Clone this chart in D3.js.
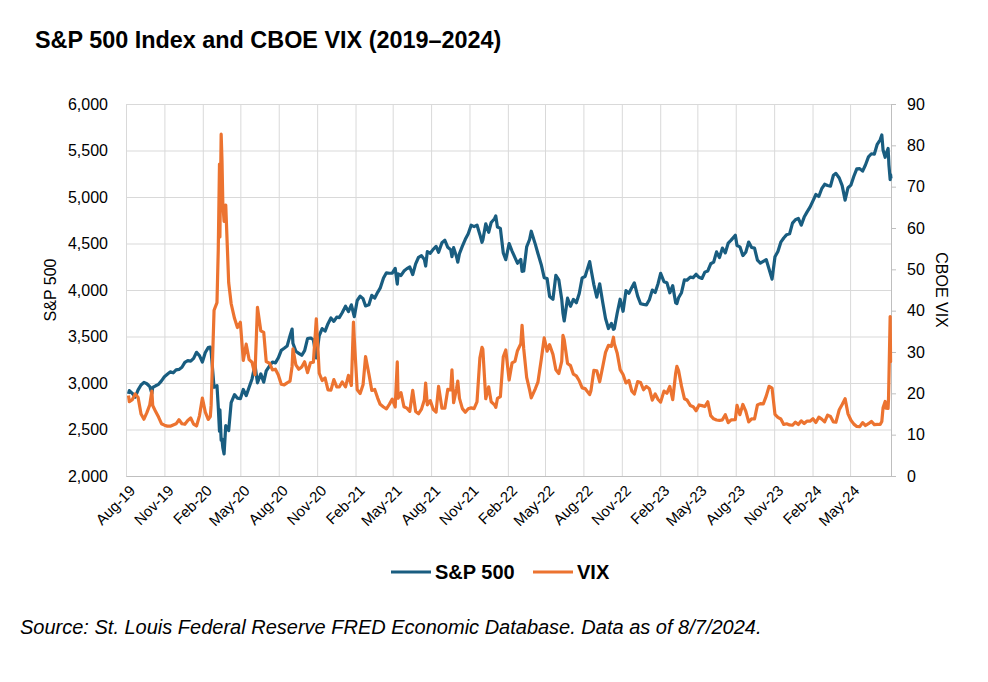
<!DOCTYPE html>
<html>
<head>
<meta charset="utf-8">
<script src="https://cdn.jsdelivr.net/npm/d3@7"></script>
<style>
  body { margin: 0; background: #fff; }
  svg { font-family: "Liberation Sans", Arial, sans-serif; }
  .grid line { stroke: #d9d9d9; stroke-width: 1; }
  .grid path { display: none; }
</style>
</head>
<body>
<svg id="chart"></svg>
<script>
// trading days (mostly weekly closes, plus the big swings)
let dates = [
  '2019-08-07', '2019-08-09', '2019-08-16', '2019-08-23', '2019-08-30', '2019-09-06', '2019-09-13', '2019-09-20', '2019-09-27',
  '2019-10-02', '2019-10-04', '2019-10-11', '2019-10-18', '2019-10-25', '2019-11-01', '2019-11-08', '2019-11-15', '2019-11-22',
  '2019-11-29', '2019-12-06', '2019-12-13', '2019-12-20', '2019-12-27',
  '2020-01-03', '2020-01-10', '2020-01-17', '2020-01-24', '2020-01-31', '2020-02-07', '2020-02-14', '2020-02-19', '2020-02-21',
  '2020-02-28', '2020-03-06', '2020-03-09', '2020-03-12', '2020-03-13', '2020-03-16', '2020-03-18', '2020-03-20', '2020-03-23',
  '2020-03-27', '2020-04-03', '2020-04-09', '2020-04-17', '2020-04-24', '2020-05-01', '2020-05-08', '2020-05-15', '2020-05-22',
  '2020-05-29', '2020-06-05', '2020-06-11', '2020-06-19', '2020-06-26', '2020-07-02', '2020-07-10', '2020-07-17', '2020-07-24',
  '2020-07-31', '2020-08-07', '2020-08-14', '2020-08-21', '2020-08-28', '2020-09-02', '2020-09-04', '2020-09-11', '2020-09-18',
  '2020-09-25', '2020-10-02', '2020-10-09', '2020-10-16', '2020-10-23', '2020-10-30', '2020-11-06', '2020-11-13', '2020-11-20',
  '2020-11-27', '2020-12-04', '2020-12-11', '2020-12-18', '2020-12-24', '2020-12-31',
  '2021-01-08', '2021-01-15', '2021-01-22', '2021-01-27', '2021-01-29', '2021-02-05', '2021-02-12', '2021-02-19', '2021-02-25',
  '2021-03-05', '2021-03-12', '2021-03-19', '2021-03-26', '2021-04-01', '2021-04-09', '2021-04-16', '2021-04-23', '2021-04-30',
  '2021-05-07', '2021-05-12', '2021-05-14', '2021-05-21', '2021-05-28', '2021-06-04', '2021-06-11', '2021-06-18', '2021-06-25',
  '2021-07-02', '2021-07-09', '2021-07-16', '2021-07-19', '2021-07-23', '2021-07-30', '2021-08-06', '2021-08-13', '2021-08-19',
  '2021-08-27', '2021-09-03', '2021-09-10', '2021-09-17', '2021-09-20', '2021-09-24', '2021-10-01', '2021-10-04', '2021-10-08',
  '2021-10-15', '2021-10-22', '2021-10-29', '2021-11-05', '2021-11-12', '2021-11-19', '2021-11-26', '2021-12-01', '2021-12-03',
  '2021-12-10', '2021-12-17', '2021-12-23', '2021-12-31',
  '2022-01-03', '2022-01-07', '2022-01-14', '2022-01-21', '2022-01-27', '2022-02-04', '2022-02-11', '2022-02-18', '2022-02-24',
  '2022-03-04', '2022-03-07', '2022-03-11', '2022-03-18', '2022-03-25', '2022-03-29', '2022-04-08', '2022-04-14', '2022-04-22',
  '2022-04-29', '2022-05-06', '2022-05-12', '2022-05-20', '2022-05-27', '2022-06-03', '2022-06-10', '2022-06-13', '2022-06-16',
  '2022-06-24', '2022-07-01', '2022-07-08', '2022-07-15', '2022-07-22', '2022-07-29', '2022-08-05', '2022-08-16', '2022-08-19',
  '2022-08-26', '2022-09-02', '2022-09-09', '2022-09-16', '2022-09-23', '2022-09-30', '2022-10-07', '2022-10-12', '2022-10-14',
  '2022-10-21', '2022-10-28', '2022-11-04', '2022-11-11', '2022-11-18', '2022-11-25', '2022-12-01', '2022-12-09', '2022-12-16',
  '2022-12-23', '2022-12-30',
  '2023-01-06', '2023-01-13', '2023-01-20', '2023-01-27', '2023-02-02', '2023-02-10', '2023-02-17', '2023-02-24', '2023-03-03',
  '2023-03-10', '2023-03-13', '2023-03-17', '2023-03-24', '2023-03-31', '2023-04-06', '2023-04-14', '2023-04-21', '2023-04-28',
  '2023-05-05', '2023-05-12', '2023-05-19', '2023-05-26', '2023-06-02', '2023-06-09', '2023-06-16', '2023-06-23', '2023-06-30',
  '2023-07-07', '2023-07-14', '2023-07-21', '2023-07-31', '2023-08-04', '2023-08-11', '2023-08-18', '2023-08-25', '2023-09-01',
  '2023-09-08', '2023-09-15', '2023-09-22', '2023-09-29', '2023-10-06', '2023-10-13', '2023-10-20', '2023-10-27', '2023-11-03',
  '2023-11-10', '2023-11-17', '2023-11-24', '2023-12-01', '2023-12-08', '2023-12-15', '2023-12-22', '2023-12-29',
  '2024-01-05', '2024-01-12', '2024-01-19', '2024-01-26', '2024-02-02', '2024-02-09', '2024-02-16', '2024-02-23', '2024-03-01',
  '2024-03-08', '2024-03-15', '2024-03-22', '2024-03-28', '2024-04-05', '2024-04-12', '2024-04-19', '2024-04-26', '2024-05-03',
  '2024-05-10', '2024-05-17', '2024-05-24', '2024-05-31', '2024-06-07', '2024-06-14', '2024-06-21', '2024-06-28', '2024-07-05',
  '2024-07-12', '2024-07-16', '2024-07-19', '2024-07-24', '2024-07-26', '2024-07-31', '2024-08-01', '2024-08-02', '2024-08-05',
  '2024-08-06', '2024-08-07'
];

// S&P 500 close, same order as dates
let spx = [
  2884, 2919, 2889, 2847, 2926, 2979, 3007, 2992, 2961,
  2888, 2952, 2970, 2986, 3023, 3067, 3093, 3120, 3110,
  3141, 3146, 3169, 3221, 3240,
  3235, 3265, 3330, 3295, 3226, 3328, 3380, 3386, 3338,
  2954, 2972, 2747, 2481, 2711, 2386, 2398, 2305, 2237,
  2541, 2489, 2790, 2875, 2837, 2831, 2930, 2864, 2955,
  3044, 3194, 3002, 3098, 3009, 3130, 3185, 3225, 3216,
  3271, 3351, 3373, 3397, 3508, 3580, 3427, 3341, 3319,
  3298, 3348, 3477, 3484, 3465, 3270, 3509, 3585, 3558,
  3638, 3699, 3663, 3709, 3703, 3756,
  3825, 3768, 3841, 3750, 3714, 3887, 3934, 3907, 3829,
  3842, 3943, 3913, 3975, 4020, 4129, 4185, 4180, 4181,
  4233, 4063, 4174, 4156, 4204, 4230, 4247, 4166, 4281,
  4352, 4370, 4327, 4258, 4412, 4395, 4437, 4468, 4406,
  4509, 4535, 4459, 4433, 4358, 4455, 4357, 4300, 4391,
  4471, 4545, 4605, 4697, 4682, 4698, 4595, 4513, 4538,
  4712, 4620, 4726, 4766,
  4796, 4677, 4663, 4398, 4326, 4500, 4419, 4349, 4288,
  4329, 4201, 4204, 4463, 4543, 4632, 4488, 4393, 4272,
  4132, 4123, 3930, 3901, 4158, 4109, 3901, 3750, 3667,
  3912, 3825, 3899, 3863, 3962, 4130, 4145, 4305, 4228,
  4058, 3924, 4067, 3873, 3693, 3586, 3640, 3577, 3583,
  3753, 3901, 3771, 3993, 3965, 4026, 4077, 3934, 3852,
  3845, 3840,
  3895, 3999, 3973, 4071, 4180, 4090, 4079, 3970, 4046,
  3862, 3855, 3917, 3971, 4109, 4105, 4138, 4133, 4169,
  4136, 4124, 4192, 4205, 4282, 4299, 4410, 4348, 4450,
  4399, 4505, 4536, 4589, 4478, 4464, 4370, 4406, 4516,
  4457, 4450, 4320, 4288, 4308, 4327, 4224, 4117, 4358,
  4415, 4514, 4559, 4595, 4604, 4719, 4755, 4770,
  4697, 4784, 4840, 4891, 4959, 5027, 5006, 5089, 5137,
  5124, 5117, 5234, 5254, 5204, 5123, 4967, 5100, 5128,
  5223, 5303, 5305, 5278, 5347, 5432, 5465, 5460, 5567,
  5615, 5667, 5505, 5427, 5459, 5522, 5446, 5346, 5186,
  5240, 5199
];

// CBOE VIX close, same order as dates
let vix = [
  19.49, 17.97, 18.47, 19.87, 18.98, 15.00, 13.74, 15.32, 17.22,
  20.56, 17.04, 15.58, 14.25, 12.65, 12.30, 12.07, 12.05, 12.34,
  12.62, 13.62, 12.63, 12.51, 13.43,
  14.02, 12.56, 12.10, 14.56, 18.84, 15.47, 13.68, 14.38, 17.08,
  40.11, 41.94, 54.46, 75.47, 57.83, 82.69, 76.45, 66.04, 61.59,
  65.54, 46.80, 41.67, 38.15, 35.93, 37.19, 27.98, 31.89, 28.16,
  27.51, 24.52, 40.79, 35.12, 34.73, 27.68, 27.29, 25.68, 25.84,
  24.46, 22.21, 22.05, 22.54, 22.96, 26.57, 30.75, 26.87, 25.83,
  26.38, 27.63, 25.00, 27.41, 27.55, 38.02, 24.86, 23.10, 23.70,
  20.84, 20.79, 23.31, 21.57, 21.53, 22.75,
  21.56, 24.34, 21.91, 37.21, 33.09, 20.87, 19.97, 22.05, 28.89,
  24.66, 20.69, 20.95, 18.86, 17.33, 16.69, 16.25, 17.33, 18.61,
  16.69, 27.59, 18.81, 20.15, 16.76, 16.42, 15.65, 20.70, 15.62,
  15.07, 16.18, 18.45, 22.50, 17.20, 18.24, 16.15, 15.45, 21.67,
  16.39, 16.41, 20.95, 20.81, 25.71, 17.75, 21.15, 22.96, 18.77,
  16.30, 15.43, 16.26, 16.48, 16.29, 17.91, 28.62, 31.12, 30.67,
  18.69, 21.57, 17.96, 17.22,
  16.60, 18.76, 19.19, 28.85, 30.49, 23.22, 27.36, 27.75, 30.32,
  31.98, 36.45, 30.75, 23.87, 20.81, 18.90, 21.16, 22.70, 28.21,
  33.40, 30.19, 31.77, 29.43, 25.72, 24.79, 27.75, 34.02, 32.95,
  27.23, 26.70, 24.64, 24.23, 23.03, 21.33, 21.15, 19.69, 20.60,
  25.56, 25.47, 22.79, 26.30, 29.92, 31.62, 31.36, 33.57, 32.02,
  29.69, 25.75, 24.55, 22.52, 23.12, 20.50, 19.84, 22.83, 22.62,
  20.87, 21.67,
  21.13, 18.35, 19.85, 18.51, 17.87, 20.53, 20.02, 21.67, 18.49,
  24.80, 26.52, 25.51, 21.74, 18.70, 18.40, 17.07, 16.77, 15.78,
  17.19, 17.03, 16.81, 17.95, 14.60, 13.83, 13.54, 13.44, 13.59,
  14.83, 12.91, 13.60, 13.63, 17.10, 14.84, 17.30, 15.68, 13.09,
  13.84, 13.79, 17.20, 17.52, 17.45, 19.32, 21.71, 21.27, 14.91,
  14.17, 13.80, 12.46, 12.63, 12.35, 12.28, 13.03, 12.45,
  13.35, 12.70, 13.30, 13.26, 13.85, 12.93, 14.24, 13.75, 13.11,
  14.74, 14.41, 13.06, 13.01, 16.03, 17.31, 18.71, 15.03, 13.49,
  12.55, 11.99, 11.93, 12.92, 12.22, 12.66, 13.20, 12.44, 12.48,
  12.46, 13.19, 16.52, 18.04, 16.39, 16.36, 18.59, 23.39, 38.57,
  27.71, 27.85
];

// axis tick labels
let monthTicks = ['Aug-19', 'Nov-19', 'Feb-20', 'May-20', 'Aug-20', 'Nov-20', 'Feb-21', 'May-21', 'Aug-21', 'Nov-21',
  'Feb-22', 'May-22', 'Aug-22', 'Nov-22', 'Feb-23', 'May-23', 'Aug-23', 'Nov-23', 'Feb-24', 'May-24'];
let spxTicks = [2000, 2500, 3000, 3500, 4000, 4500, 5000, 5500, 6000];
let vixTicks = [0, 10, 20, 30, 40, 50, 60, 70, 80, 90];

console.assert(dates.length == spx.length && dates.length == vix.length, 'length mismatch');

let config = {
  'svg': {},
  'margin': {},
  'plot': {}
};

config.svg.width = 988;
config.svg.height = 682;

config.margin.top = 104;
config.margin.left = 126;
config.margin.right = 97;
config.margin.bottom = 206;

config.plot.width = config.svg.width - config.margin.left - config.margin.right;
config.plot.height = config.svg.height - config.margin.top - config.margin.bottom;

let blue = '#195d80';
let orange = '#ec7330';

let parseDay = d3.timeParse('%Y-%m-%d');
let parseTick = d3.timeParse('%b-%y');

let svg = d3.select('#chart')
  .attr('width', config.svg.width)
  .attr('height', config.svg.height);

let rows = dates.map((d, i) => ({ date: parseDay(d), spx: spx[i], vix: vix[i] }));

let xScale = d3.scaleTime()
  .domain([new Date(2019, 7, 1), new Date(2024, 7, 7)])
  .range([0, config.plot.width]);

let spxScale = d3.scaleLinear()
  .domain([2000, 6000])
  .range([config.plot.height, 0]);

let vixScale = d3.scaleLinear()
  .domain([0, 90])
  .range([config.plot.height, 0]);

let plot = svg.append('g')
  .attr('id', 'plot')
  .attr('transform', translate(config.margin.left, config.margin.top));

let tickDates = monthTicks.map(parseTick);

// grid lines
plot.append('g')
  .attr('class', 'grid')
  .call(d3.axisLeft(spxScale).tickValues(spxTicks).tickFormat('').tickSize(-config.plot.width));

plot.append('g')
  .attr('class', 'grid')
  .attr('transform', translate(0, config.plot.height))
  .call(d3.axisBottom(xScale).tickValues(tickDates).tickFormat('').tickSize(-config.plot.height));

// left axis (labels only)
let yLeft = plot.append('g')
  .call(d3.axisLeft(spxScale).tickValues(spxTicks).tickFormat(d3.format(',')).tickSize(0).tickPadding(18));
yLeft.select('.domain').remove();
yLeft.selectAll('text').attr('font-size', 16).attr('fill', '#000');

// right axis
let yRight = plot.append('g')
  .attr('transform', translate(config.plot.width, 0))
  .call(d3.axisRight(vixScale).tickValues(vixTicks).tickSizeOuter(0).tickSize(5).tickPadding(11));
yRight.select('.domain').attr('stroke', '#bfbfbf');
yRight.selectAll('line').attr('stroke', '#bfbfbf');
yRight.selectAll('text').attr('font-size', 16).attr('fill', '#000');

// bottom axis line + rotated month labels
let xGroup = plot.append('g')
  .attr('transform', translate(0, config.plot.height))
  .call(d3.axisBottom(xScale).tickValues(tickDates).tickFormat(d3.timeFormat('%b-%y')).tickSize(0).tickSizeOuter(0));
xGroup.select('.domain').attr('stroke', '#bfbfbf');
xGroup.selectAll('text')
  .attr('font-size', 15)
  .attr('fill', '#000')
  .attr('text-anchor', 'end')
  .attr('dy', '0.35em')
  .attr('y', 0)
  .attr('transform', 'translate(6,12) rotate(-45)');

// series
let spxLine = d3.line()
  .x(d => xScale(d.date))
  .y(d => spxScale(d.spx));

let vixLine = d3.line()
  .x(d => xScale(d.date))
  .y(d => vixScale(d.vix));

plot.append('path')
  .datum(rows)
  .attr('fill', 'none')
  .attr('stroke', blue)
  .attr('stroke-width', 3.2)
  .attr('stroke-linejoin', 'round')
  .attr('d', spxLine);

plot.append('path')
  .datum(rows)
  .attr('fill', 'none')
  .attr('stroke', orange)
  .attr('stroke-width', 3.2)
  .attr('stroke-linejoin', 'round')
  .attr('d', vixLine);

// axis titles
plot.append('text')
  .attr('transform', 'rotate(-90)')
  .attr('x', -config.plot.height / 2)
  .attr('y', -70)
  .attr('text-anchor', 'middle')
  .attr('font-size', 16)
  .text('S&P 500');

plot.append('text')
  .attr('transform', 'rotate(90)')
  .attr('x', config.plot.height / 2)
  .attr('y', -config.plot.width - 45)
  .attr('text-anchor', 'middle')
  .attr('font-size', 16)
  .text('CBOE VIX');

// title
svg.append('text')
  .attr('x', 35)
  .attr('y', 48)
  .attr('font-size', 23.4)
  .attr('font-weight', 'bold')
  .text('S&P 500 Index and CBOE VIX (2019\u20132024)');

// legend
let legend = svg.append('g').attr('transform', translate(391, 572));
let items = [
  { name: 'S&P 500', color: blue, x: 0, tx: 44 },
  { name: 'VIX', color: orange, x: 142, tx: 186 }
];
items.forEach(it => {
  legend.append('line')
    .attr('x1', it.x).attr('x2', it.x + 40)
    .attr('y1', 0).attr('y2', 0)
    .attr('stroke', it.color)
    .attr('stroke-width', 3);
  legend.append('text')
    .attr('x', it.tx)
    .attr('y', 7)
    .attr('font-size', 20)
    .attr('font-weight', 'bold')
    .text(it.name);
});

// source note
svg.append('text')
  .attr('x', 20)
  .attr('y', 634)
  .attr('font-size', 20)
  .attr('font-style', 'italic')
  .text('Source: St. Louis Federal Reserve FRED Economic Database. Data as of 8/7/2024.');

// helper method to make translating easier
function translate(x, y) {
  return 'translate(' + x + ',' + y + ')';
}
</script>
</body>
</html>
